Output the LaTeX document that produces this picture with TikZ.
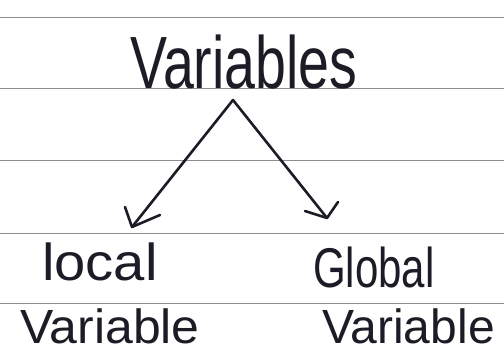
\documentclass[tikz,border=0pt]{standalone}
\usepackage{fontspec}
\setmainfont{Liberation Sans}
\definecolor{ink}{HTML}{1C1C26}
\definecolor{rule}{HTML}{8E8E8E}
\begin{document}
\begin{tikzpicture}[x=1pt,y=-1pt,
  ruled/.style={draw=rule,line width=1pt},
  word/.style={inner sep=0pt,anchor=base west,text=ink},
  pen/.style={draw=ink,line width=2.6pt,line cap=round,line join=round}]
\useasboundingbox[fill=white] (0,0) rectangle (504,354);
% ruled paper lines
\foreach \yy in {17,88,160,233,303}{\draw[ruled] (0,\yy) -- (504,\yy);}
% words
\node[word] (vars) at (130,88) {\scalebox{0.75}[1]{\fontsize{74}{74}\selectfont Variables}};
\node[word] (local) at (42,280) {\scalebox{1.08}[1]{\fontsize{52}{52}\selectfont local}};
\node[word] (lvar) at (20,343) {\scalebox{1.04}[1]{\fontsize{48}{48}\selectfont Variable}};
\node[word] (global) at (313,287) {\scalebox{0.75}[1]{\fontsize{56}{56}\selectfont Global}};
\node[word] (gvar) at (322,343) {\scalebox{1.0}[1]{\fontsize{48}{48}\selectfont Variable}};
% connectors
\coordinate (apex) at (233,100);
\coordinate (tipL) at (132,227);
\coordinate (tipR) at (327,218);
\coordinate (hL1) at (125,207);
\coordinate (hL2) at (160,215);
\coordinate (hR1) at (305,211);
\coordinate (hR2) at (338,202);
\draw[pen] (tipL) -- (apex) -- (tipR);
\draw[pen] (hL1) -- (tipL) -- (hL2);
\draw[pen] (hR1) -- (tipR) -- (hR2);
\end{tikzpicture}
\end{document}
